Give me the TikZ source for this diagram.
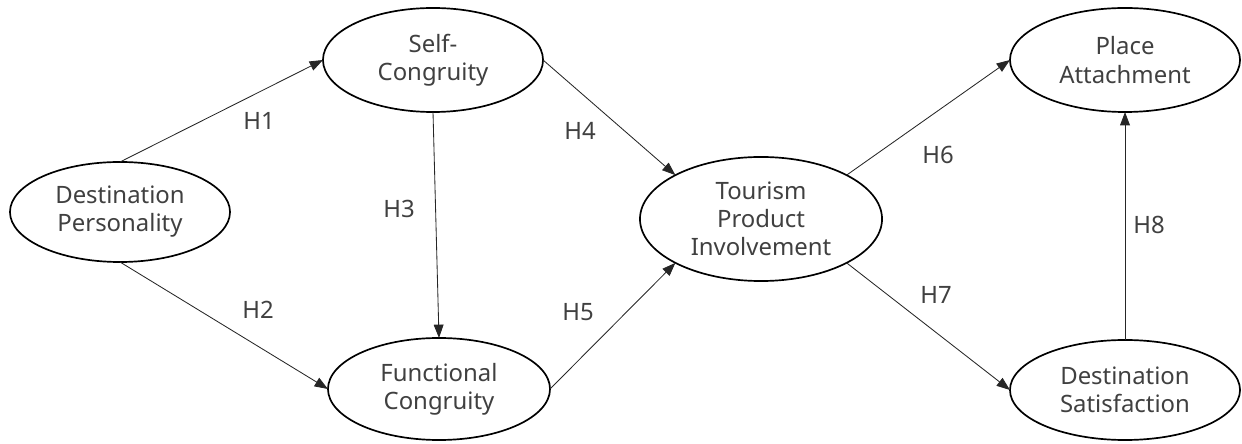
\documentclass[tikz,border=0pt]{standalone}
\usepackage{fontspec}
\setmainfont{Noto Sans}
\usepackage{tikz}
\usetikzlibrary{shapes.geometric,arrows.meta}
\tikzset{
  construct/.style={ draw, ellipse, line width=1.2pt, inner sep=0pt, outer sep=0pt,
    align=center, text=black!75, font=\fontsize{17}{20}\selectfont }
}
\tikzset{
  hyp/.style={ text=black!75, font=\fontsize{17}{20}\selectfont, inner sep=0pt }
}
\tikzset{
  path/.style={ line width=0.6pt, draw=black!85, -{Triangle[length=9.5pt,width=7pt]} }
}

\begin{document}
\begin{tikzpicture}[x=0.025cm, y=-0.025cm]
      \useasboundingbox (0,0) rectangle (1242,444);
      \node[construct, minimum width=5.5cm, minimum height=2.5cm] (dp) at (120, 212) {Destination\\Personality};
      \node[construct, minimum width=5.5cm, minimum height=2.6cm] (sc) at (433, 60) {Self-\\Congruity};
      \node[construct, minimum width=5.55cm, minimum height=2.55cm] (fc) at (439, 389) {Functional\\Congruity};
      \node[construct, minimum width=6.05cm, minimum height=3.1cm] (tpi) at (761, 219) {Tourism\\Product\\Involvement};
      \node[construct, minimum width=5.75cm, minimum height=2.6cm] (pa) at (1125, 60) {Place\\Attachment};
      \node[construct, minimum width=5.75cm, minimum height=2.5cm] (ds) at (1125, 390) {Destination\\Satisfaction};
      \draw[path] (dp.north) -- (sc.west);
      \draw[path] (dp.south) -- (fc.west);
      \draw[path] (sc.south) -- (fc.north);
      \draw[path] (sc.east) -- (tpi.north west);
      \draw[path] (fc.east) -- (tpi.south west);
      \draw[path] (tpi.north east) -- (pa.west);
      \draw[path] (tpi.south east) -- (ds.west);
      \draw[path] (ds.north) -- (pa.south);
      \node[hyp] (h1) at (259, 121) {H1};
      \node[hyp] (h2) at (258, 310) {H2};
      \node[hyp] (h3) at (399, 209) {H3};
      \node[hyp] (h4) at (580, 131) {H4};
      \node[hyp] (h5) at (578, 312) {H5};
      \node[hyp] (h6) at (938, 155) {H6};
      \node[hyp] (h7) at (936, 295) {H7};
      \node[hyp] (h8) at (1149, 225) {H8};
    \end{tikzpicture}
\end{document}
